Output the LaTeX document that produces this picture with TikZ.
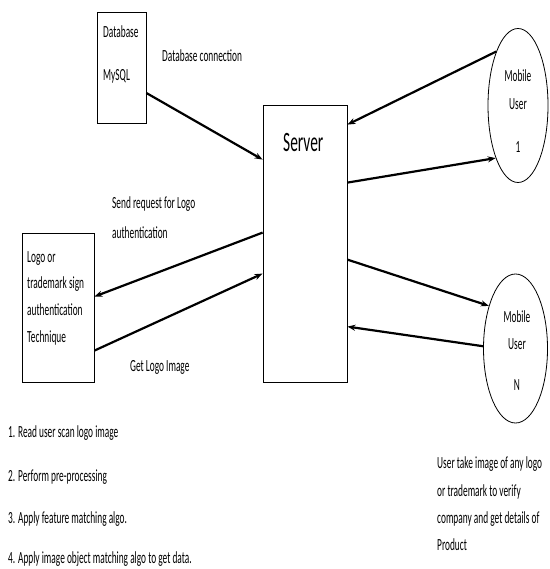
\documentclass[tikz,border=0pt]{standalone}
\usepackage{fontspec}
\setmainfont{Carlito}[FakeStretch=0.55]
\usetikzlibrary{arrows.meta,shapes.geometric}

\tikzset{
  box/.style={draw, line width=0.8pt, inner sep=0pt},
  user/.style={ellipse, draw, line width=0.8pt, inner sep=0pt},
  lbl/.style={anchor=base west, inner sep=0pt, font=\fontsize{17}{20}\selectfont},
  flow/.style={-{Stealth[length=8pt,width=6pt]}, line width=2.2pt},
}

\begin{document}
\begin{tikzpicture}[x=1pt,y=-1pt]
			\useasboundingbox (0,0) rectangle (549,569);
			% Define boxes and users
			\node[box, minimum width=49pt, minimum height=111pt] (db) at (121.5,67.5) {};
			\node[box, minimum width=84pt, minimum height=277pt] (server) at (305,243.5) {};
			\node[box, minimum width=72pt, minimum height=149pt] (logo) at (58,307.5) {};
			\node[user, minimum width=60pt, minimum height=154pt] (mob1) at (518,105.5) {};
			\node[user, minimum width=64pt, minimum height=149pt] (mobN) at (515.5,348.5) {};
			
			% Texts in the shapes
			\node[lbl] (dbname) at (103,38) {Database};
			\node[lbl] (dbkind) at (103,81) {MySQL};
			\node[lbl, font=\fontsize{28}{32}\selectfont] (servername) at (283,152) {Server};
			\node[lbl, anchor=base] (mobAa) at (518,82) {Mobile};
			\node[lbl, anchor=base] (mobAb) at (518,110) {User};
			\node[lbl, anchor=base] (mobAc) at (518,153) {1};
			\node[lbl, anchor=base] (mobBa) at (517,322) {Mobile};
			\node[lbl, anchor=base] (mobBb) at (517,349) {User};
			\node[lbl, anchor=base] (mobBc) at (517,390) {N};
			\node[lbl] (logoa) at (27,262) {Logo or};
			\node[lbl] (logob) at (27,288) {trademark sign};
			\node[lbl] (logoc) at (27,315) {authentication};
			\node[lbl] (logod) at (27,342) {Technique};
			
			% Texts on the connectors
			\node[lbl] (dbconn) at (162,62) {Database connection};
			\node[lbl] (senda) at (112,208) {Send request for Logo};
			\node[lbl] (sendb) at (112,238) {authentication};
			\node[lbl] (getimg) at (130,371) {Get Logo Image};
			
			% Steps and user note
			\node[lbl] (stepa) at (8,437) {1. Read user scan logo image};
			\node[lbl] (stepb) at (8,481) {2. Perform pre-processing};
			\node[lbl] (stepc) at (8,523) {3. Apply feature matching algo.};
			\node[lbl] (stepd) at (8,563) {4. Apply image object matching algo to get data.};
			\node[lbl] (notea) at (437,468) {User take image of any logo};
			\node[lbl] (noteb) at (437,496) {or trademark to verify};
			\node[lbl] (notec) at (437,523) {company and get details of};
			\node[lbl] (noted) at (437,550) {Product};
			
			% Draw connectors
			\draw[flow] ([yshift=-25.5pt]db.east) -- ([yshift=-55pt]server.north west);
			\draw[flow] (mob1.112) -- ([yshift=-20pt]server.north east);
			\draw[flow] ([yshift=-78pt]server.north east) -- (mob1.247);
			\draw[flow] ([yshift=-155pt]server.north east) -- (mobN.122);
			\draw[flow] (mobN.176) -- ([yshift=-222pt]server.north east);
			\draw[flow] ([yshift=-128pt]server.north west) -- ([yshift=-64pt]logo.north east);
			\draw[flow] ([yshift=-118pt]logo.north east) -- ([yshift=-169pt]server.north west);
		\end{tikzpicture}
\end{document}
